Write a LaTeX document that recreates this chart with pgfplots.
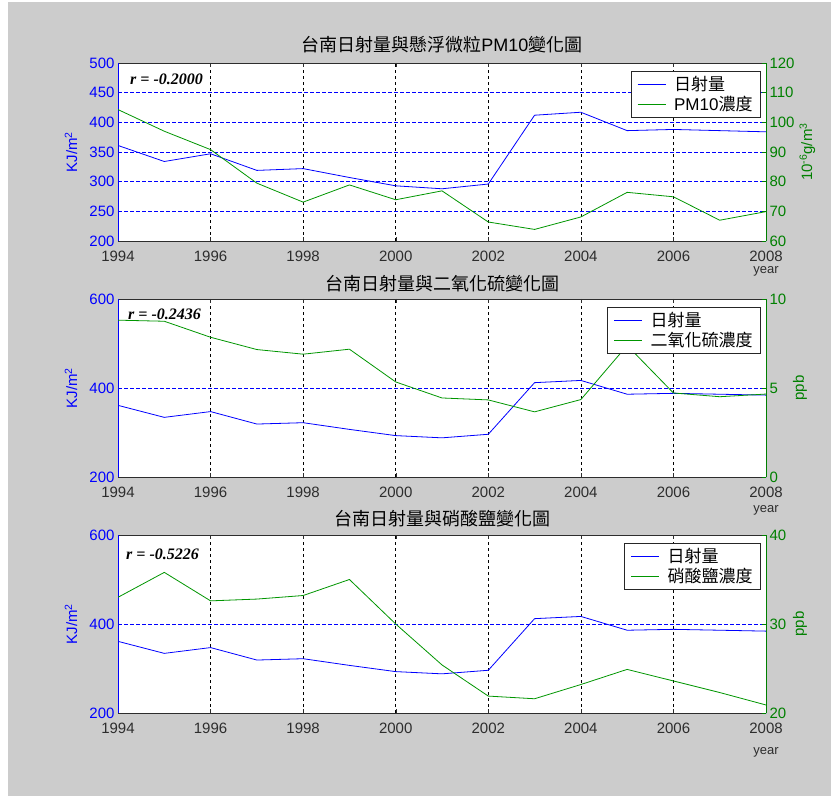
\documentclass[border=0pt]{standalone}
\usepackage{fontspec}
\setmainfont{Liberation Sans}
\newfontfamily\cjk{Noto Sans CJK TC}
\newfontfamily\rserif{Liberation Serif}
\usepackage{pgfplots}
\usepackage{pgfplotstable}
\pgfplotsset{compat=1.18}

\definecolor{figgray}{RGB}{204,204,204}
\definecolor{mblue}{RGB}{0,0,255}
\definecolor{mgreen}{RGB}{0,128,0}
\definecolor{lgreen}{RGB}{0,150,0}
\definecolor{axgray}{RGB}{45,45,45}

\newcommand\tickfont{\fontsize{15}{15}\selectfont}
\newcommand\labfont{\fontsize{15}{15}\selectfont}
\newcommand\titlefont{\fontsize{18}{18}\selectfont}
\newcommand\legfont{\fontsize{17}{17}\selectfont}
\newcommand\yearfont{\fontsize{13}{13}\selectfont}
\newcommand\rfont{\rserif\bfseries\itshape\fontsize{16}{16}\selectfont}

% yearly radiation (KJ/m2) with PM10, SO2 and nitrate concentrations
\pgfplotstableread{
year rad pm10  so2  no3
1994 361 104.3 8.81 33.0
1995 334 97.0  8.75 35.8
1996 347 90.8  7.85 32.6
1997 319 79.5  7.16 32.8
1998 322 73.1  6.90 33.2
1999 307 78.9  7.18 35.0
2000 293 73.9  5.34 30.0
2001 288 76.9  4.44 25.4
2002 296 66.4  4.33 21.9
2003 412 63.9  3.66 21.6
2004 417 68.1  4.35 23.2
2005 386 76.4  7.39 24.9
2006 388 74.9  4.72 23.6
2007 386 67.0  4.51 22.3
2008 384 69.9  4.66 20.9
}\datatable

\pgfplotsset{
  panel/.style={
    scale only axis, width=648pt, height=178pt,
    xmin=1994, xmax=2008, anchor=south west,
    xtick={1994,1996,...,2008},
    tick align=inside, major tick length=4pt,
    /pgf/number format/1000 sep={},
    /pgf/number format/assume math mode=true,
    tick label style={font=\tickfont},
    clip mode=individual,
  },
  leftax/.style={
    panel, axis x line*=box, axis y line*=left,
    axis background/.style={fill=white},
    x axis line style={axgray, line width=0.8pt},
    y axis line style={mblue, line width=0.8pt},
    xtick style={axgray}, ytick style={mblue, line width=0.6pt},
    xticklabel style={text=axgray, yshift=-6pt},
    yticklabel style={text=mblue},
    xmajorgrids, ymajorgrids,
    x grid style={black, line width=0.6pt, dash pattern=on 3pt off 3pt},
    y grid style={mblue, line width=0.7pt, dash pattern=on 3.5pt off 2.5pt},
    every axis y label/.style={at={(axis description cs:-0.0725,0.5)}, rotate=90, anchor=center, text=mblue, font=\labfont},
    ylabel={KJ/m\textsuperscript{2}},
    every axis title/.style={at={(axis description cs:0.5,1)}, anchor=center, font=\titlefont, text=black},
  },
  rightax/.style={
    panel, axis x line=none, axis y line*=right,
    y axis line style={mgreen, line width=0.8pt},
    ytick style={mgreen, line width=0.6pt},
    yticklabel style={text=mgreen},
    every axis y label/.style={at={(axis description cs:1.0525,0.5)}, rotate=90, anchor=center, text=mgreen, font=\labfont},
    legend cell align=left,
    legend image code/.code={\draw[##1] (0pt,0pt) -- (28pt,0pt);},
    legend style={at={(axis description cs:1,1)}, anchor=north east,
      xshift=-5pt, yshift=-8pt, draw=black!85, line width=0.9pt, fill=white,
      font=\legfont, inner xsep=6pt, inner ysep=3pt, column sep=6pt,
      row sep=0pt, nodes={inner sep=2pt}},
  },
  radline/.style={mblue, line width=0.8pt},
  conline/.style={lgreen, line width=0.8pt},
}

\begin{document}
\begin{tikzpicture}
\useasboundingbox (0,0) rectangle (838pt,798pt);
\fill[white] (0,0) rectangle (838pt,798pt);
\fill[figgray] (8pt,2pt) rectangle (831pt,796pt);

% ---- panel 1: radiation vs PM10 ----
\begin{axis}[leftax, at={(118pt,557pt)},
  ymin=200, ymax=500, ytick={200,250,...,500},
  title={{\cjk 台南日射量與懸浮微粒}PM10{\cjk 變化圖}}, title style={yshift=18pt}]
  \addplot[radline] table[x=year,y=rad]{\datatable};
  \node[anchor=west, inner sep=0, font=\rfont] at (rel axis cs:0,1) [xshift=12pt, yshift=-16pt] {r = -0.2000};
  \node[anchor=north, inner sep=0, font=\yearfont, text=axgray] at (rel axis cs:1,0) [yshift=-25pt] {year};
\end{axis}
\begin{axis}[rightax, at={(118pt,557pt)},
  ymin=60, ymax=120, ytick={60,70,...,120},
  ylabel={10\textsuperscript{-6}g/m\textsuperscript{3}},
  every axis y label/.append style={at={(axis description cs:1.064,0.5)}}]
  \addlegendimage{radline}
  \addlegendentry{{\cjk 日射量}}
  \addplot[conline] table[x=year,y=pm10]{\datatable};
  \addlegendentry{PM10{\cjk 濃度}}
\end{axis}

% ---- panel 2: radiation vs SO2 ----
\begin{axis}[leftax, at={(118pt,321pt)},
  ymin=200, ymax=600, ytick={200,400,600},
  title={{\cjk 台南日射量與二氧化硫變化圖}}, title style={yshift=15pt}]
  \addplot[radline] table[x=year,y=rad]{\datatable};
  \node[anchor=west, inner sep=0, font=\rfont] at (rel axis cs:0,1) [xshift=10pt, yshift=-15pt] {r = -0.2436};
  \node[anchor=north, inner sep=0, font=\yearfont, text=axgray] at (rel axis cs:1,0) [yshift=-28pt] {year};
\end{axis}
\begin{axis}[rightax, at={(118pt,321pt)},
  ymin=0, ymax=10, ytick={0,5,10},
  ylabel={ppb}]
  \addlegendimage{radline}
  \addlegendentry{{\cjk 日射量}}
  \addplot[conline] table[x=year,y=so2]{\datatable};
  \addlegendentry{{\cjk 二氧化硫濃度}}
\end{axis}

% ---- panel 3: radiation vs nitrate ----
\begin{axis}[leftax, at={(118pt,85pt)},
  ymin=200, ymax=600, ytick={200,400,600},
  title={{\cjk 台南日射量與硝酸鹽變化圖}}, title style={yshift=16pt}]
  \addplot[radline] table[x=year,y=rad]{\datatable};
  \node[anchor=west, inner sep=0, font=\rfont] at (rel axis cs:0,1) [xshift=8pt, yshift=-19pt] {r = -0.5226};
  \node[anchor=north, inner sep=0, font=\yearfont, text=axgray] at (rel axis cs:1,0) [yshift=-34pt] {year};
\end{axis}
\begin{axis}[rightax, at={(118pt,85pt)},
  ymin=20, ymax=40, ytick={20,30,40},
  ylabel={ppb}]
  \addlegendimage{radline}
  \addlegendentry{{\cjk 日射量}}
  \addplot[conline] table[x=year,y=no3]{\datatable};
  \addlegendentry{{\cjk 硝酸鹽濃度}}
\end{axis}
\end{tikzpicture}
\end{document}
